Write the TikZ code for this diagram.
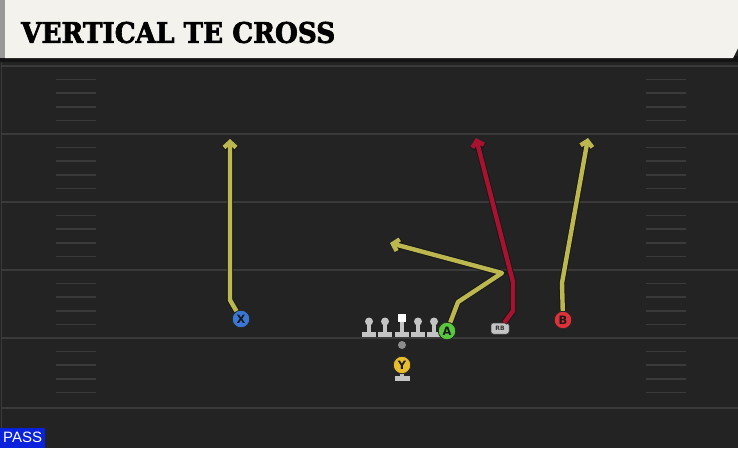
\documentclass[tikz,border=0pt]{standalone}
\usepackage{fontspec}
\setmainfont{DejaVu Sans}
\setsansfont{DejaVu Sans}
\newfontfamily\titlefont{DejaVu Serif}[BoldFeatures={FakeBold=2.5}]
\newfontfamily\tagfont{Liberation Sans}
\usepackage{graphicx}
\usetikzlibrary{arrows.meta,positioning,calc}

\definecolor{field}{HTML}{232323}
\definecolor{yardline}{HTML}{3A3A3A}
\definecolor{headerbg}{HTML}{F4F2EC}
\definecolor{routeyellow}{HTML}{BDB750}
\definecolor{routered}{HTML}{A8122F}
\definecolor{xblue}{HTML}{3A78D8}
\definecolor{agreen}{HTML}{58C83C}
\definecolor{bred}{HTML}{E0303A}
\definecolor{yyellow}{HTML}{E8BC2A}
\definecolor{linegray}{HTML}{C4C4C4}
\definecolor{passblue}{HTML}{0B22DC}

\begin{document}
\begin{tikzpicture}[x=1pt, y=-1pt,
    player/.style={circle, draw=black!85, line width=0.8pt, minimum size=17.5pt, inner sep=0pt, font=\sffamily\bfseries\fontsize{11.5}{11.5}\selectfont, text=black!90},
    head/.style={circle, fill=linegray, minimum size=8pt, inner sep=0pt},
    route/.style={line width=4.4pt, draw=routeyellow, line join=round, -{Straight Barb[length=5.5pt,width=12pt]}, preaction={draw=black!90, line width=6.4pt}},
    hash/.style={yardline, line width=1.6pt}]

    % field and header
    \useasboundingbox (0,0) rectangle (738,448);
    \fill[field] (0,0) rectangle (738,448);
    \fill[black!92] (0,56) rectangle (738,62);
    \fill[headerbg] (5,0) -- (738,0) -- (738,48) -- (733,58) -- (5,58) -- cycle;
    \fill[black!40] (0,0) rectangle (5,58);
    \draw[yardline, line width=1pt] (1,62) -- (1,448);
    \node[anchor=west, inner sep=0pt] (title) at (21,32.5) {\resizebox{314pt}{21pt}{\titlefont\bfseries VERTICAL TE CROSS}};

    % yard lines and hashes
    \foreach \y in {66,134,202,270,338,408}
        \draw[yardline, line width=1.8pt] (2,\y) -- (738,\y);
    \foreach \y in {66,134,202,270,338}
        \foreach \k in {1,...,4} {
            \draw[hash] (56,\y+\k*13.6) -- (96,\y+\k*13.6);
            \draw[hash] (646,\y+\k*13.6) -- (686,\y+\k*13.6);
        }

    % line
    \foreach \x/\n in {369/LT,385/LG,418/RG,434/RT} {
        \node[head] (\n) at (\x,321.5) {};
        \fill[linegray] (\x-2.2,325) rectangle (\x+2.2,332);
        \fill[linegray] (\x-7,332) rectangle (\x+7,336.5);
    }
    \node[fill=white, minimum size=8.5pt, inner sep=0pt] (C) at (402,318) {};
    \fill[linegray] (399.8,322) rectangle (404.2,332);
    \fill[linegray] (395,332) rectangle (409,336.5);
    \node[circle, fill=black!45, minimum size=8pt, inner sep=0pt] (ball) at (402,345) {};

    % skill players
    \node[player, fill=xblue] (X) at (241,319) {X};
    \node[player, fill=agreen] (A) at (447,331) {A};
    \node[player, fill=bred] (B) at (563,320) {B};
    \fill[linegray] (400,372) rectangle (404,376);
    \fill[linegray] (394.5,376) rectangle (409.5,380.5);
    \node[player, fill=yyellow] (Y) at (402,365) {Y};
    \node[rounded corners=2.5pt, fill=linegray, draw=black!70, line width=0.5pt, minimum width=18pt, minimum height=11pt, inner sep=0pt, font=\sffamily\bfseries\fontsize{6}{6}\selectfont, text=black!80] (RB) at (500,328.5) {RB};

    % routes
    \coordinate (Xbreak) at (230,300);
    \coordinate (Xend) at (230,139);
    \coordinate (Aout) at (458,302);
    \coordinate (Abreak) at (502,273);
    \coordinate (Aend) at (390,243);
    \coordinate (RBout) at (513,311);
    \coordinate (RBbreak) at (513,282);
    \coordinate (RBend) at (476,138);
    \coordinate (Bbreak) at (562,283);
    \coordinate (Bend) at (588,138);

    \draw[route] (X) -- (Xbreak) -- (Xend);
    \draw[route] (A) -- (Aout) -- (Abreak) -- (Aend);
    \draw[route, draw=routered] (RB) -- (RBout) -- (RBbreak) -- (RBend);
    \draw[route] (B) -- (Bbreak) -- (Bend);

    % play type tag
    \node[fill=passblue, anchor=south west, minimum width=45pt, minimum height=20pt, inner sep=0pt, text=white, font=\tagfont\fontsize{15}{15}\selectfont] (tag) at (0,448) {PASS};
\end{tikzpicture}
\end{document}
